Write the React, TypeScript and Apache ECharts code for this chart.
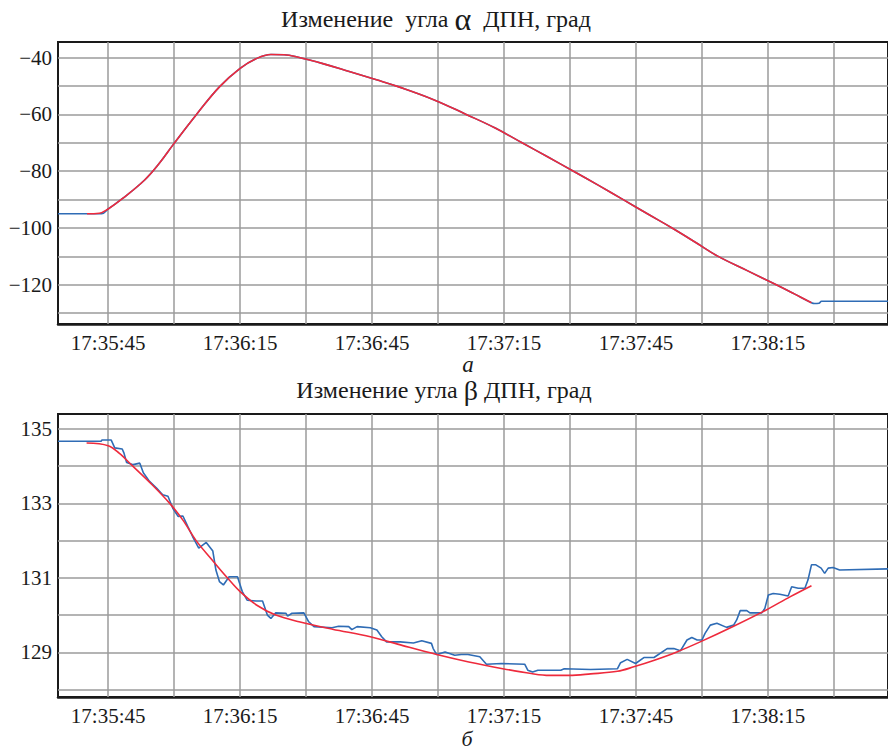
import React, { useEffect, useRef } from 'react';
import * as echarts from 'echarts';

// time in seconds after 17:35:00
const xMin = 33.6;
const xMax = 222.3;
const timeTickSeconds = [45, 75, 105, 135, 165, 195];
const timeTickLabels = ['17:35:45', '17:36:15', '17:36:45', '17:37:15', '17:37:45', '17:38:15'];
const timeGridSeconds = [45, 60, 75, 90, 105, 120, 135, 150, 165, 180, 195, 210];

const alphaTicks = [-40, -60, -80, -100, -120];
const alphaGrid = [-130, -120, -110, -100, -90, -80, -70, -60, -50, -40];
const betaTicks = [129, 131, 133, 135];
const betaGrid = [128, 129, 130, 131, 132, 133, 134, 135];

// α — measured (blue)
const alphaMeasT = [33.6, 43.5, 45, 48.3, 53.3, 56.5, 60, 65, 70.3, 75, 78.5, 82, 85, 88, 94, 100, 106, 111.1, 119, 126.4, 133, 139.1, 145, 150.8, 156.5, 162.1, 167.6, 173.2, 178.5, 183.7, 190.3, 196.9, 201, 204.9, 205.6, 206.6, 207.2, 222.3];
const alphaMeasV = [-95, -95, -93.3, -89.6, -83.1, -77.5, -70.2, -60.2, -50.3, -43.8, -40.5, -38.9, -39.0, -39.8, -42.2, -45.0, -47.8, -50.3, -54.8, -60, -64.8, -70, -75, -80, -85, -90, -95, -100, -105, -110, -115, -120, -123.2, -126.3, -126.6, -126.5, -125.8, -125.8];
// α — fit (red)
const alphaFitT = [40.2, 43, 45, 48.3, 53.3, 56.5, 60, 65, 70.3, 75, 78.5, 82, 85, 88, 94, 100, 106, 111.1, 119, 126.4, 133, 139.1, 145, 150.8, 156.5, 162.1, 167.6, 173.2, 178.5, 183.7, 190.3, 196.9, 201, 204.9];
const alphaFitV = [-95, -94.8, -93.3, -89.6, -83.1, -77.5, -70.2, -60.2, -50.3, -43.8, -40.5, -38.9, -39.0, -39.8, -42.2, -45.0, -47.8, -50.3, -54.8, -60, -64.8, -70, -75, -80, -85, -90, -95, -100, -105, -110, -115, -120, -123.2, -126.3];

// β — measured (blue)
const betaMeasT = [33.6, 43.4, 43.6, 45.7, 46.5, 48.2, 48.6, 49.2, 50.7, 52.2, 53, 54.4, 56, 57.4, 58.6, 59.7, 60.9, 62, 63.1, 64.2, 65.6, 67.3, 68.8, 69.5, 70.3, 71.2, 72.5, 74.4, 75.5, 76.6, 78.6, 80.1, 81.2, 82, 83.1, 85.4, 85.8, 86.8, 89.5, 90.6, 91.8, 95.9, 97.4, 99.7, 100.4, 101.6, 104.6, 106.1, 107.2, 108.3, 111.4, 114.4, 116.3, 118.5, 118.9, 119.7, 121.6, 123.8, 125.3, 126.8, 129.5, 131, 134.4, 139.7, 140.4, 141.5, 142.7, 147.9, 148.7, 154.7, 160.8, 161.5, 163.0, 164.9, 166.8, 169.1, 172.1, 173.6, 175.1, 176.6, 177.7, 178.9, 180.0, 180.7, 181.9, 183.4, 185.6, 187.2, 187.9, 188.7, 190.2, 190.9, 193.6, 194.3, 195.1, 196.2, 197.7, 199.6, 200.4, 201.9, 203.4, 204.1, 204.9, 205.9, 207.1, 207.9, 208.7, 209.8, 211.3, 222.3];
const betaMeasV = [134.67, 134.67, 134.7, 134.7, 134.49, 134.46, 134.35, 134.1, 134.04, 134.08, 133.82, 133.59, 133.41, 133.23, 133.19, 132.87, 132.65, 132.66, 132.38, 132.11, 131.8, 131.95, 131.72, 131.21, 130.9, 130.81, 131.03, 131.03, 130.63, 130.4, 130.38, 130.38, 130.0, 129.91, 130.06, 130.05, 129.97, 130.05, 130.06, 129.82, 129.69, 129.66, 129.7, 129.69, 129.61, 129.69, 129.66, 129.6, 129.42, 129.28, 129.28, 129.25, 129.31, 129.24, 129.1, 128.94, 129.01, 128.92, 128.94, 128.94, 128.88, 128.68, 128.7, 128.68, 128.52, 128.47, 128.52, 128.52, 128.56, 128.54, 128.56, 128.72, 128.81, 128.7, 128.86, 128.86, 129.1, 129.1, 129.04, 129.33, 129.4, 129.33, 129.33, 129.51, 129.73, 129.78, 129.67, 129.73, 129.87, 130.12, 130.12, 130.06, 130.06, 130.18, 130.54, 130.58, 130.56, 130.51, 130.76, 130.72, 130.72, 130.94, 131.35, 131.35, 131.26, 131.12, 131.26, 131.28, 131.21, 131.24];
// β — fit (red)
const betaFitT = [40.1, 45, 47.5, 50.6, 55, 59, 62, 65, 68.5, 72.1, 75, 79, 83.1, 88.4, 96, 104.6, 112, 119.7, 127, 134.7, 141.2, 145.3, 149.8, 154.7, 160.8, 164.5, 169, 174.3, 179.6, 187.2, 194.5, 200, 204.9];
const betaFitV = [134.62, 134.55, 134.35, 134.0, 133.5, 133.0, 132.55, 132.0, 131.5, 131.0, 130.63, 130.25, 130.0, 129.82, 129.62, 129.42, 129.18, 128.94, 128.74, 128.56, 128.43, 128.38, 128.38, 128.42, 128.49, 128.61, 128.78, 129.01, 129.28, 129.7, 130.13, 130.49, 130.79];

const zip = (t: number[], v: number[]) => t.map((x, i) => [x, v[i]]);

const FONT = 'Liberation Serif';
const TEXT = '#1a1a1a';
const BLUE = '#2f6cb5';
const RED = '#ee2a3c';
const GRIDC = '#9b9b9b';

const tickLabel = (v: number) => {
  const i = timeTickSeconds.findIndex((s) => Math.abs(s - v) < 0.01);
  return i >= 0 ? timeTickLabels[i] : '';
};

function xAxisFor(gridIndex: number) {
  return {
    type: 'value',
    gridIndex,
    min: xMin,
    max: xMax,
    axisLine: { show: true, onZero: false, lineStyle: { color: TEXT, width: 2.5 } },
    axisTick: { show: false },
    splitLine: { show: false },
    axisLabel: {
      customValues: timeTickSeconds,
      formatter: tickLabel,
      fontFamily: FONT,
      fontSize: 21,
      color: TEXT,
      margin: 8,
    },
  };
}

function gridMarkLine(yVals: number[]) {
  return {
    silent: true,
    z: 1,
    symbol: ['none', 'none'],
    label: { show: false },
    emphasis: { disabled: true },
    lineStyle: { color: GRIDC, width: 1.5, type: 'solid' },
    data: [...timeGridSeconds.map((t) => ({ xAxis: t })), ...yVals.map((v) => ({ yAxis: v }))],
  };
}

export default function App() {
  const ref = useRef<HTMLDivElement>(null);
  useEffect(() => {
    const chart = echarts.init(ref.current!, null, { renderer: 'svg' });
    const option: any = {
      animation: false,
      backgroundColor: '#ffffff',
      grid: [
        { left: 58, top: 42, width: 834, height: 282, show: true, borderColor: TEXT, borderWidth: 2, backgroundColor: 'transparent' },
        { left: 58, top: 414, width: 834, height: 283, show: true, borderColor: TEXT, borderWidth: 2, backgroundColor: 'transparent' },
      ],
      xAxis: [xAxisFor(0), xAxisFor(1)],
      yAxis: [
        {
          type: 'value', gridIndex: 0, min: -133.8, max: -34.5,
          axisLine: { show: false }, axisTick: { show: false }, splitLine: { show: false },
          axisLabel: {
            customValues: alphaTicks,
            formatter: (v: number) => (v < 0 ? '\u2212' + Math.abs(v) : String(v)),
            fontFamily: FONT, fontSize: 21, color: TEXT, margin: 6,
          },
        },
        {
          type: 'value', gridIndex: 1, min: 127.8, max: 135.4,
          axisLine: { show: false }, axisTick: { show: false }, splitLine: { show: false },
          axisLabel: {
            customValues: betaTicks,
            formatter: (v: number) => String(v),
            fontFamily: FONT, fontSize: 21, color: TEXT, margin: 6,
          },
        },
      ],
      series: [
        {
          type: 'line', xAxisIndex: 0, yAxisIndex: 0, z: 2, showSymbol: false, symbol: 'none', smooth: 0.4,
          data: zip(alphaMeasT, alphaMeasV), lineStyle: { color: BLUE, width: 1.6 }, silent: true,
          markLine: gridMarkLine(alphaGrid),
        },
        {
          type: 'line', xAxisIndex: 0, yAxisIndex: 0, z: 3, showSymbol: false, symbol: 'none', smooth: 0.4,
          data: zip(alphaFitT, alphaFitV), lineStyle: { color: RED, width: 1.6 }, silent: true,
        },
        {
          type: 'line', xAxisIndex: 1, yAxisIndex: 1, z: 2, showSymbol: false, symbol: 'none',
          data: zip(betaMeasT, betaMeasV), lineStyle: { color: BLUE, width: 1.6 }, silent: true,
          markLine: gridMarkLine(betaGrid),
        },
        {
          type: 'line', xAxisIndex: 1, yAxisIndex: 1, z: 3, showSymbol: false, symbol: 'none', smooth: 0.35,
          data: zip(betaFitT, betaFitV), lineStyle: { color: RED, width: 1.6 }, silent: true,
        },
      ],
      graphic: [
        {
          type: 'text', x: 436, y: 19,
          style: {
            text: 'Изменение  угла {g|α}  ДПН, град',
            font: '24px "Liberation Serif"', fill: TEXT,
            textAlign: 'center', textVerticalAlign: 'middle',
            rich: { g: { font: '32px "Liberation Serif"', fill: TEXT } },
          },
        },
        {
          type: 'text', x: 468, y: 364,
          style: { text: 'а', font: 'italic 23px "Liberation Serif"', fill: TEXT, textAlign: 'center', textVerticalAlign: 'middle' },
        },
        {
          type: 'text', x: 444, y: 390,
          style: {
            text: 'Изменение угла {g|β} ДПН, град',
            font: '24px "Liberation Serif"', fill: TEXT,
            textAlign: 'center', textVerticalAlign: 'middle',
            rich: { g: { font: '28px "Liberation Serif"', fill: TEXT } },
          },
        },
        {
          type: 'text', x: 467, y: 738,
          style: { text: 'б', font: 'italic 22px "Liberation Serif"', fill: TEXT, textAlign: 'center', textVerticalAlign: 'middle' },
        },
      ],
    };
    chart.setOption(option);
    return () => chart.dispose();
  }, []);
  return (
    <div
      ref={ref}
      style={{ position: 'fixed', left: 0, top: 0, width: 888, height: 749, background: '#fff' }}
    />
  );
}
